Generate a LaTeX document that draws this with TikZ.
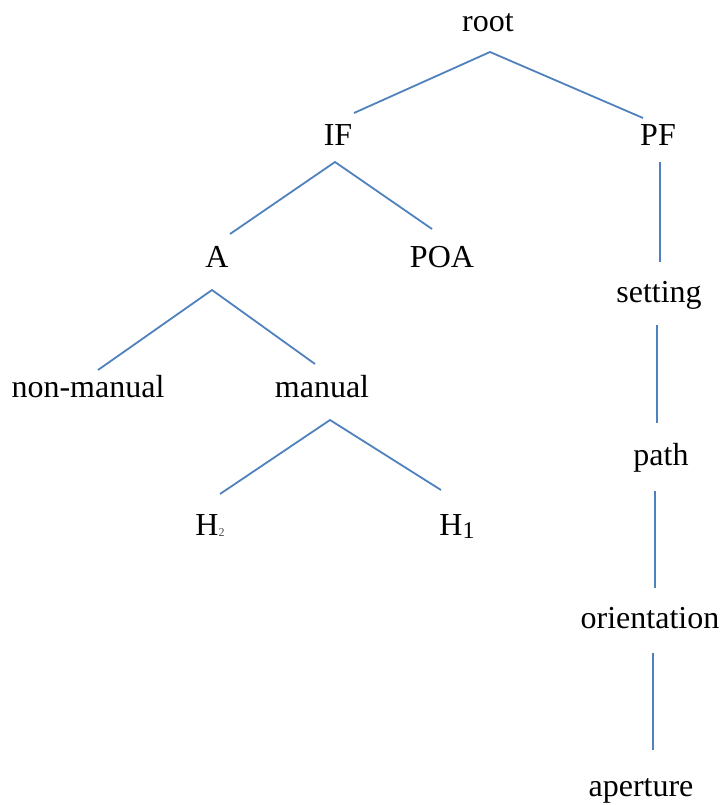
\documentclass[tikz,border=0pt]{standalone}
\usepackage{fontspec}
\setmainfont{Liberation Serif}
\definecolor{edgeblue}{RGB}{79,129,189}
\begin{document}
\begin{tikzpicture}[x=1pt,y=-1pt,
  lbl/.style={anchor=base,inner sep=0pt,font=\fontsize{32}{38}\selectfont},
  edge/.style={draw=edgeblue,line width=1.8pt}]
\useasboundingbox (0,0) rectangle (720,805);
% labels
\node[lbl] (root) at (488,32) {root};
\node[lbl] (IF) at (338,146) {IF};
\node[lbl] (PF) at (658,146) {PF};
\node[lbl] (A) at (217,267) {A};
\node[lbl] (POA) at (442,267) {POA};
\node[lbl] (setting) at (659,302) {setting};
\node[lbl] (nonmanual) at (88,397) {non-manual};
\node[lbl] (manual) at (322,397) {manual};
\node[lbl] (path) at (661,465) {path};
\node[lbl] (H2) at (210,535) {H\raisebox{-1pt}{\fontsize{12}{14}\selectfont\color{black!70}2}};
\node[lbl] (H1) at (457,535) {H\raisebox{-3pt}{\fontsize{24}{28}\selectfont 1}};
\node[lbl] (orientation) at (650,628) {orientation};
\node[lbl] (aperture) at (641,796) {aperture};
% connector end points
\coordinate (rootV) at (490,52);
\coordinate (IFtop) at (354,113);
\coordinate (PFtop) at (643,118);
\coordinate (IFV) at (335,162);
\coordinate (Atop) at (230,234);
\coordinate (POAtop) at (432,229);
\coordinate (AV) at (212,290);
\coordinate (nmtop) at (98,370);
\coordinate (mantop) at (315,364);
\coordinate (manV) at (330,420);
\coordinate (H2top) at (220,494);
\coordinate (H1top) at (441,490);
\coordinate (PFbot) at (660,162);
\coordinate (settop) at (660,262);
\coordinate (setbot) at (657,325);
\coordinate (pathtop) at (657,423);
\coordinate (pathbot) at (655,491);
\coordinate (oritop) at (655,588);
\coordinate (oribot) at (653,653);
\coordinate (apetop) at (653,750);
% connectors
\draw[edge] (IFtop) -- (rootV) -- (PFtop);
\draw[edge] (Atop) -- (IFV) -- (POAtop);
\draw[edge] (nmtop) -- (AV) -- (mantop);
\draw[edge] (H2top) -- (manV) -- (H1top);
\draw[edge] (PFbot) -- (settop);
\draw[edge] (setbot) -- (pathtop);
\draw[edge] (pathbot) -- (oritop);
\draw[edge] (oribot) -- (apetop);
\end{tikzpicture}
\end{document}
